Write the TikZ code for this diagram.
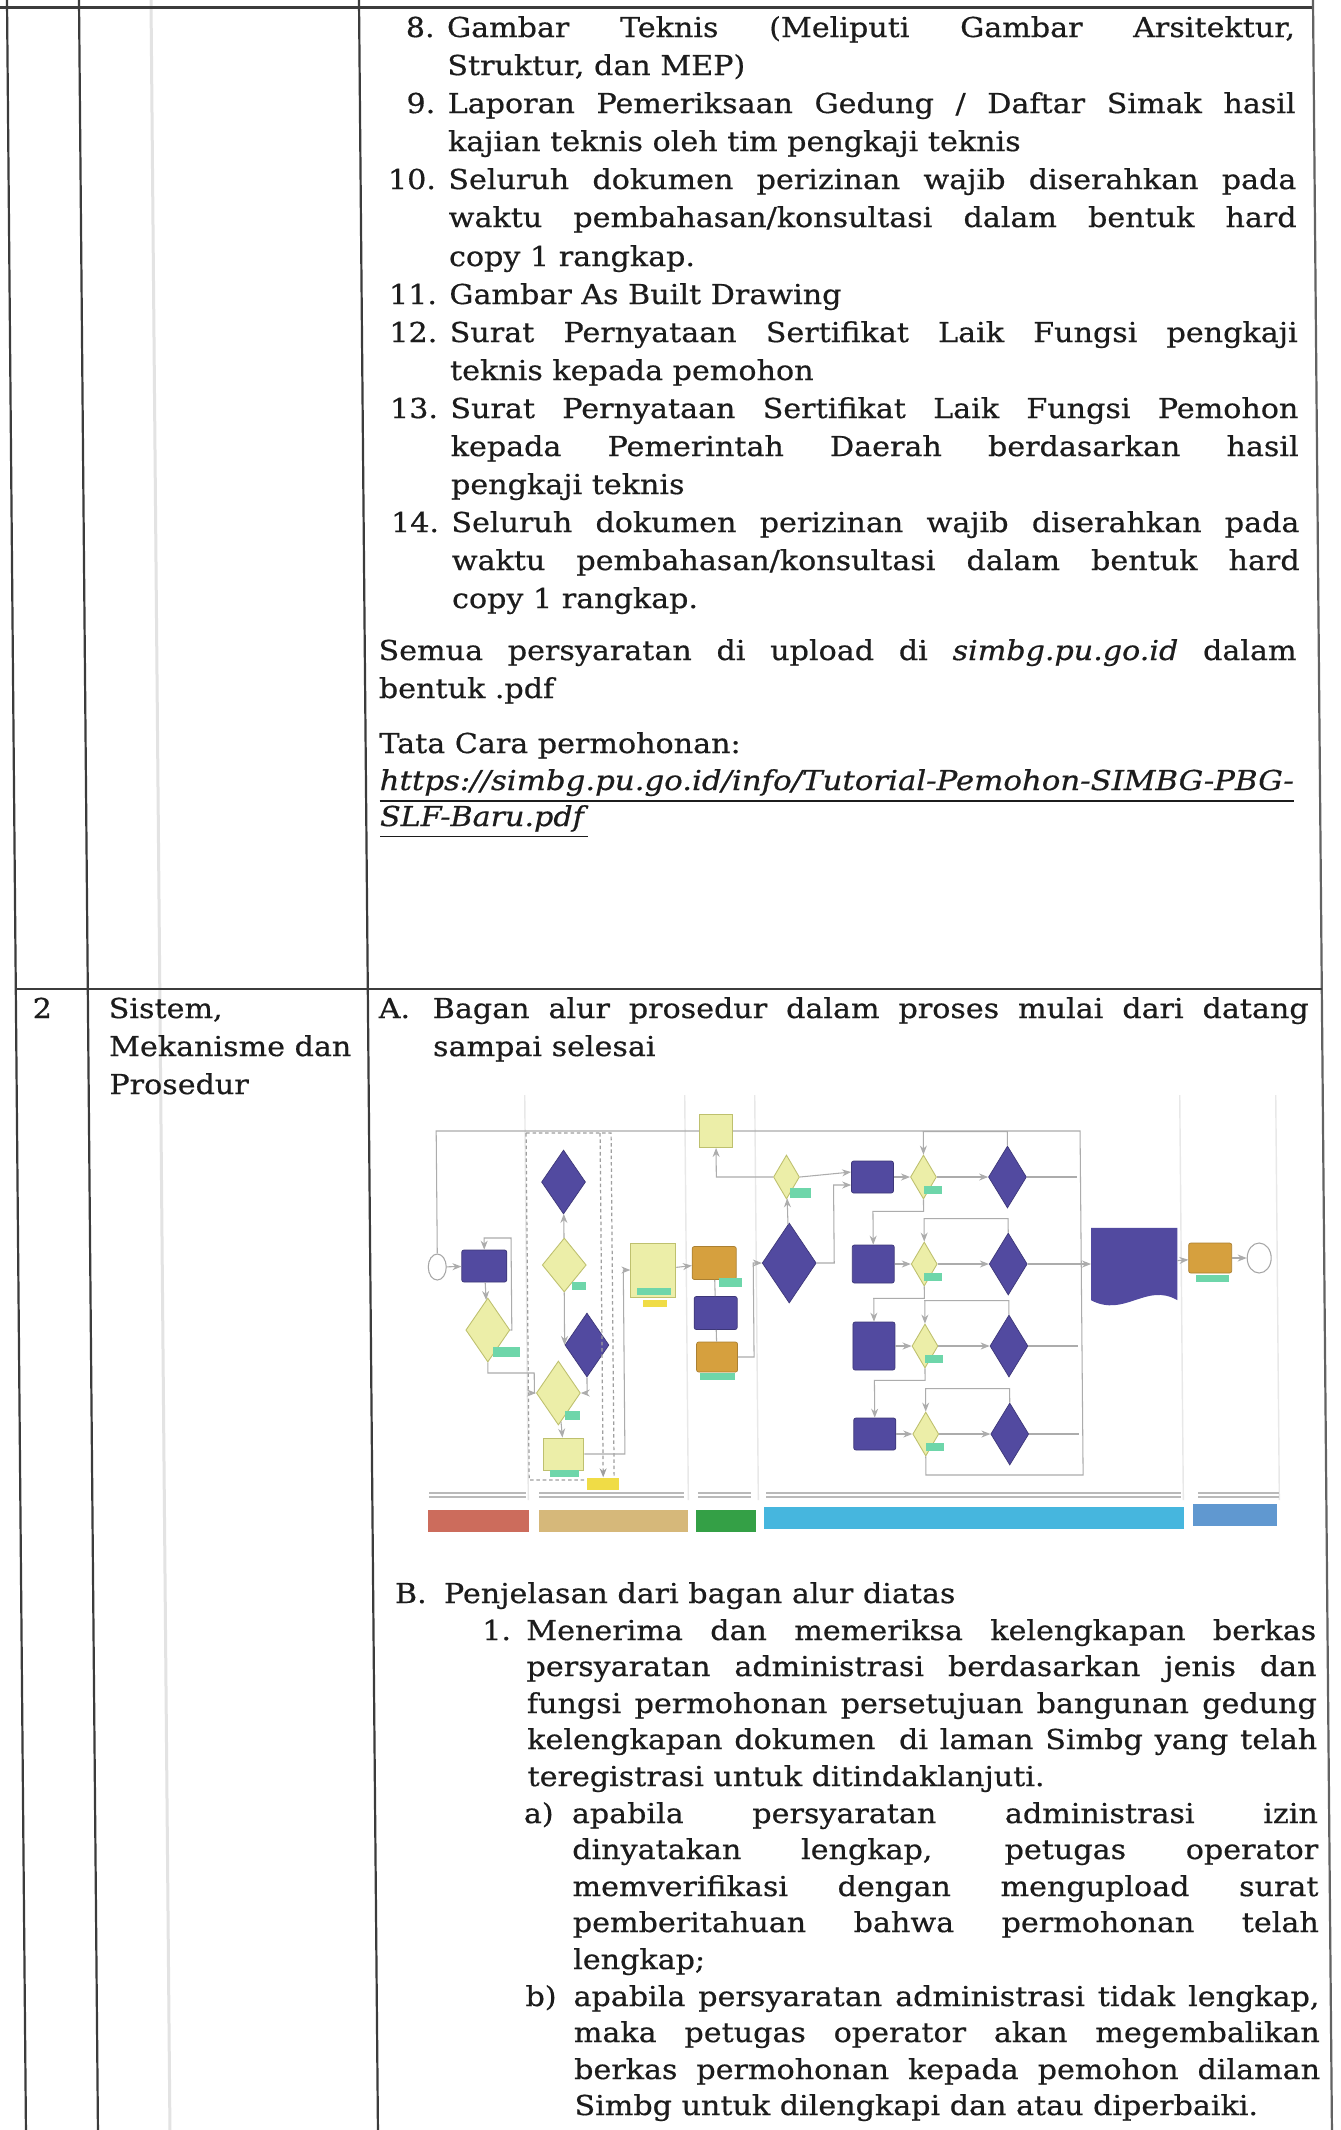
\documentclass[tikz,border=0pt]{standalone}
\usepackage{fontspec}
\setmainfont{DejaVu Serif}[FakeStretch=1.1,FakeBold=0.6]
\usepackage{graphicx}
\usetikzlibrary{positioning,shapes.geometric,arrows.meta}
\definecolor{Ink}{RGB}{28,28,28}
\definecolor{RuleGray}{RGB}{60,60,60}
\definecolor{FlowPurple}{RGB}{82,74,160}
\definecolor{FlowYellow}{RGB}{236,238,168}
\definecolor{FlowOlive}{RGB}{190,192,110}
\definecolor{FlowMint}{RGB}{110,214,170}
\definecolor{FlowOrange}{RGB}{214,160,62}
\definecolor{TagYellow}{RGB}{240,220,70}
\definecolor{BarRed}{RGB}{204,108,92}
\definecolor{BarTan}{RGB}{214,184,122}
\definecolor{BarGreen}{RGB}{52,160,70}
\definecolor{BarCyan}{RGB}{70,182,222}
\definecolor{BarSteel}{RGB}{96,152,208}
\newcommand{\jline}[2]{\makebox[#1][s]{#2}}
\tikzset{
  txt/.style={anchor=base west,inner sep=0pt,text=Ink},
  num/.style={anchor=base east,inner sep=0pt,text=Ink},
  rulel/.style={draw=RuleGray,line width=0.22mm},
  sz/.style 2 args={minimum width=#1,minimum height=#2},
  proc/.style={rectangle,rounded corners=0.6pt,fill=FlowPurple,draw=FlowPurple!75!black,line width=0.2pt,inner sep=0pt},
  dec/.style={diamond,fill=FlowPurple,draw=FlowPurple!75!black,line width=0.2pt,inner sep=0pt},
  ydec/.style={diamond,fill=FlowYellow,draw=FlowOlive,line width=0.25pt,inner sep=0pt},
  ybox/.style={rectangle,fill=FlowYellow,draw=FlowOlive,line width=0.25pt,inner sep=0pt},
  obox/.style={rectangle,rounded corners=0.6pt,fill=FlowOrange,draw=FlowOrange!80!black,line width=0.2pt,inner sep=0pt},
  term/.style={ellipse,draw=gray!70,fill=white,line width=0.3pt,inner sep=0pt},
  tag/.style={rectangle,fill=FlowMint,inner sep=0pt},
  ytag/.style={rectangle,fill=TagYellow,inner sep=0pt},
  bar/.style={rectangle,inner sep=0pt,minimum height=2.2mm},
  conn/.style={draw=gray!65,line width=0.3pt,-{Stealth[length=0.9mm,width=0.7mm]}},
  wire/.style={draw=gray!65,line width=0.3pt},
  dashwire/.style={draw=gray!75,line width=0.35pt,dash pattern=on 1pt off 0.8pt},
}

\begin{document}
\begin{tikzpicture}[x=0.1mm,y=-0.1mm,font=\fontsize{7.8}{10}\selectfont]
\useasboundingbox[fill=white] (0,0) rectangle (1341,2130);
\begin{scope}[cm={1,0,-0.0089,1,(0,0)}]
% table rules
\draw[draw=gray!22,line width=0.3mm] (151,0) -- (151,2130);
\draw[rulel,line width=0.3mm] (0,7) -- (1313,7);
\draw[rulel] (7,0) -- (7,2130);
\draw[rulel] (79,0) -- (79,2130);
\draw[rulel] (359,0) -- (359,2130);
\draw[rulel,draw=RuleGray!80] (1313,0) -- (1313,2130);
\draw[rulel,line width=0.28mm] (7,989) -- (1313,989);

% row 1, list 8 to 14
\node[num] (n8) at (435,37) {8.};
\node[txt] (t1) at (446,37) {\jline{84.8mm}{Gambar Teknis (Meliputi Gambar Arsitektur,}};
\node[txt] (t2) at (446,75) {Struktur, dan MEP)};
\node[num] (n9) at (435,113) {9.};
\node[txt] (t3) at (446,113) {\jline{84.8mm}{Laporan Pemeriksaan Gedung / Daftar Simak hasil}};
\node[txt] (t4) at (446,151) {kajian teknis oleh tim pengkaji teknis};
\node[num] (n10) at (435,189) {10.};
\node[txt] (t5) at (446,189) {\jline{84.8mm}{Seluruh dokumen perizinan wajib diserahkan pada}};
\node[txt] (t6) at (446,227) {\jline{84.8mm}{waktu pembahasan/konsultasi dalam bentuk hard}};
\node[txt] (t7) at (446,266) {copy 1 rangkap.};
\node[num] (n11) at (435,304) {11.};
\node[txt] (t8) at (446,304) {Gambar As Built Drawing};
\node[num] (n12) at (435,342) {12.};
\node[txt] (t9) at (446,342) {\jline{84.8mm}{Surat Pernyataan Sertifikat Laik Fungsi pengkaji}};
\node[txt] (t10) at (446,380) {teknis kepada pemohon};
\node[num] (n13) at (435,418) {13.};
\node[txt] (t11) at (446,418) {\jline{84.8mm}{Surat Pernyataan Sertifikat Laik Fungsi Pemohon}};
\node[txt] (t12) at (446,456) {\jline{84.8mm}{kepada Pemerintah Daerah berdasarkan hasil}};
\node[txt] (t13) at (446,494) {pengkaji teknis};
\node[num] (n14) at (435,532) {14.};
\node[txt] (t14) at (446,532) {\jline{84.8mm}{Seluruh dokumen perizinan wajib diserahkan pada}};
\node[txt] (t15) at (446,570) {\jline{84.8mm}{waktu pembahasan/konsultasi dalam bentuk hard}};
\node[txt] (t16) at (446,608) {copy 1 rangkap.};
\node[txt] (t17) at (372,660) {\jline{91.8mm}{Semua persyaratan di upload di \textit{simbg.pu.go.id} dalam}};
\node[txt] (t18) at (372,698) {bentuk .pdf};
\node[txt] (t19) at (372,753) {Tata Cara permohonan:};
\node[txt] (t20) at (372,790) {\resizebox{91.4mm}{\height}{\underline{\textit{https://simbg.pu.go.id/info/Tutorial-Pemohon-SIMBG-PBG-}}}};
\node[txt] (t21) at (372,826) {\underline{\textit{SLF-Baru.pdf}}};

% row 2, left columns
\node[txt] (no2) at (23,1018) {2};
\node[txt] (k1) at (99,1018) {Sistem,};
\node[txt] (k2) at (99,1056) {Mekanisme dan};
\node[txt] (k3) at (99,1094) {Prosedur};
\node[txt] (la) at (369,1018) {A.};
\node[txt] (a1) at (423,1018) {\jline{87.6mm}{Bagan alur prosedur dalam proses mulai dari datang}};
\node[txt] (a2) at (423,1056) {sampai selesai};

% flowchart lanes
\foreach \x in {515,675,745,1170,1266}
  \draw[gray!18,line width=0.4pt] (\x,1095) -- (\x,1500);
\foreach \a/\b in {416/513,526/671,685/738,753/1168,1185/1266}
  \draw[gray!55,line width=0.3pt] (\a,1493) -- (\b,1493) (\a,1497) -- (\b,1497);
\node[bar,fill=BarRed,minimum width=10.1mm] (barA) at (464.5,1521) {};
\node[bar,fill=BarTan,minimum width=14.9mm] (barB) at (599.5,1521) {};
\node[bar,fill=BarGreen,minimum width=6mm] (barC) at (712,1521) {};
\node[bar,fill=BarCyan,minimum width=42mm] (barD) at (960,1518) {};
\node[bar,fill=BarSteel,minimum width=8.4mm] (barE) at (1222,1515) {};

% flowchart shapes
\node[term,sz={1.8mm}{2.6mm}] (mulai) at (426,1267) {};
\node[proc,sz={4.5mm}{3.2mm}] (daftar) at (473,1266) {};
\node[ydec,sz={4.4mm}{6.4mm}] (cekA) at (476,1330) {};
\node[tag,sz={2.7mm}{1.0mm}] (tgA) at (494,1352) {};
\draw[dashwire] (516,1133) rectangle (601,1480);
\node[dec,sz={4.4mm}{6.4mm}] (pA) at (553,1182) {};
\node[ydec,sz={4.4mm}{5.4mm}] (yB) at (553,1265) {};
\node[tag,sz={1.4mm}{0.8mm}] (tgB) at (568,1286) {};
\node[dec,sz={4.4mm}{6.4mm}] (pB) at (575,1345) {};
\node[ydec,sz={4.4mm}{6.4mm}] (yC) at (546,1393) {};
\node[tag,sz={1.5mm}{0.9mm}] (tgC) at (560,1415) {};
\node[ybox,sz={4.0mm}{3.2mm}] (ybA) at (551,1454) {};
\node[tag,sz={2.9mm}{0.7mm}] (tgD) at (551,1473) {};
\node[ytag,sz={3.2mm}{1.2mm}] (ytA) at (590,1484) {};
\node[ybox,sz={4.5mm}{5.4mm}] (ybB) at (642,1270) {};
\node[tag,sz={3.4mm}{0.7mm}] (tgE) at (643,1291) {};
\node[ytag,sz={2.4mm}{0.7mm}] (ytB) at (643,1303) {};
\node[obox,sz={4.4mm}{3.3mm}] (oA) at (703,1263) {};
\node[tag,sz={2.3mm}{0.9mm}] (tgF) at (719,1282) {};
\node[proc,sz={4.3mm}{3.3mm}] (pC) at (704,1313) {};
\node[obox,sz={4.1mm}{3.0mm}] (oB) at (705,1357) {};
\node[tag,sz={3.5mm}{0.7mm}] (tgG) at (705,1376) {};
\node[ybox,sz={3.3mm}{3.3mm}] (ybC) at (706,1131) {};
\node[ydec,sz={2.6mm}{4.4mm}] (yD) at (776,1177) {};
\node[tag,sz={2.1mm}{1.0mm}] (tgH) at (790,1193) {};
\node[dec,sz={5.4mm}{8.0mm}] (pD) at (778,1263) {};
\foreach \i/\y/\h in {1/1177/3.2,2/1264/3.8,3/1346/4.8,4/1434/3.2} {
  \node[proc,sz={4.2mm}{\h mm}] (r\i) at (862,\y) {};
  \node[ydec,sz={2.6mm}{4.4mm}] (q\i) at (913,\y) {};
  \node[tag,sz={1.8mm}{0.8mm}] (tq\i) at (922,\y+13) {};
  \node[dec,sz={3.8mm}{6.2mm}] (d\i) at (997,\y) {};
}
\node[inner sep=0pt,sz={8.5mm}{7.1mm}] (doc) at (1123,1264) {};
\fill[FlowPurple] (doc.north west) -- (doc.north east) -- (doc.south east)
  .. controls (1135,1282) and (1113,1318) .. (doc.south west) -- cycle;
\node[obox,sz={4.3mm}{3.0mm}] (oC) at (1199,1258) {};
\node[tag,sz={3.3mm}{0.7mm}] (tgI) at (1201,1278) {};
\node[term,sz={2.4mm}{3.0mm}] (selesai) at (1248,1258) {};

% flowchart connectors
\draw[wire] (mulai.north) |- (ybC.west);
\draw[wire] (q4.south) |- (1070,1475) |- (ybC.east);
\draw[conn] (mulai) -- (daftar);
\draw[conn] (daftar) -- (cekA);
\draw[conn] (cekA.east) -| (500,1238) -| (daftar.north);
\draw[conn] (cekA.south) |- (522,1373) |- (yC.west);
\draw[conn] (yB) -- (pA);
\draw[conn] (yB.south) -- (pB.west);
\draw[conn] (pB.south) |- (yC.east);
\draw[conn] (yC) -- (ybA);
\draw[conn] (ybA.east) -- (612,1454) |- (ybB.west);
\draw[dashwire,-{Stealth[length=0.9mm,width=0.7mm]}] (590,1133) -- (ytA.north);
\draw[conn] (ybB) -- (oA);
\draw[wire] (oA) -- (pC);
\draw[wire] (pC) -- (oB);
\draw[conn] (oB.east) -- (742,1357) |- (pD.west);
\draw[conn] (pD) -- (yD);
\draw[conn] (yD.west) -| (ybC.south);
\draw[conn] (yD.east) -- ([yshift=0.5mm]r1.west);
\draw[conn] (pD.east) -- (823,1263) |- ([yshift=-0.8mm]r1.west);
\foreach \i in {1,...,4} {
  \draw[conn] (r\i) -- (q\i);
  \draw[conn] (q\i) -- (d\i);
  \draw[conn] (d\i.north) -- ++(0,-14) -| (q\i.north);
}
\foreach \i/\j in {1/2,2/3,3/4}
  \draw[conn] (q\i.south) -- ++(0,12) -| (r\j.north);
\foreach \i in {1,3,4}
  \draw[wire] (d\i.east) -- ++(50,0);
\draw[conn] (d2) -- (doc);
\draw[conn] (doc) -- (oC);
\draw[conn] (oC) -- (selesai);

% row 2, part B
\node[txt] (lb) at (380,1603) {B.};
\node[txt] (b0) at (429,1603) {Penjelasan dari bagan alur diatas};
\node[txt] (l1) at (467,1640) {1.};
\node[txt] (b1) at (511,1640) {\jline{79mm}{Menerima dan memeriksa kelengkapan berkas}};
\node[txt] (b2) at (511,1676) {\jline{79mm}{persyaratan administrasi berdasarkan jenis dan}};
\node[txt] (b3) at (511,1713) {\jline{79mm}{fungsi permohonan persetujuan bangunan gedung}};
\node[txt] (b4) at (511,1749) {\jline{79mm}{kelengkapan dokumen\ \ di laman Simbg yang telah}};
\node[txt] (b5) at (511,1786) {teregistrasi untuk ditindaklanjuti.};
\node[txt] (lba) at (507,1823) {a)};
\node[txt] (c1) at (555,1823) {\jline{74.6mm}{apabila persyaratan administrasi izin}};
\node[txt] (c2) at (555,1859) {\jline{74.6mm}{dinyatakan lengkap, petugas operator}};
\node[txt] (c3) at (555,1896) {\jline{74.6mm}{memverifikasi dengan mengupload surat}};
\node[txt] (c4) at (555,1932) {\jline{74.6mm}{pemberitahuan bahwa permohonan telah}};
\node[txt] (c5) at (555,1969) {lengkap;};
\node[txt] (lbb) at (507,2006) {b)};
\node[txt] (e1) at (555,2006) {\jline{74.6mm}{apabila persyaratan administrasi tidak lengkap,}};
\node[txt] (e2) at (555,2042) {\jline{74.6mm}{maka petugas operator akan megembalikan}};
\node[txt] (e3) at (555,2079) {\jline{74.6mm}{berkas permohonan kepada pemohon dilaman}};
\node[txt] (e4) at (555,2115) {Simbg untuk dilengkapi dan atau diperbaiki.};
\end{scope}
\end{tikzpicture}
\end{document}
